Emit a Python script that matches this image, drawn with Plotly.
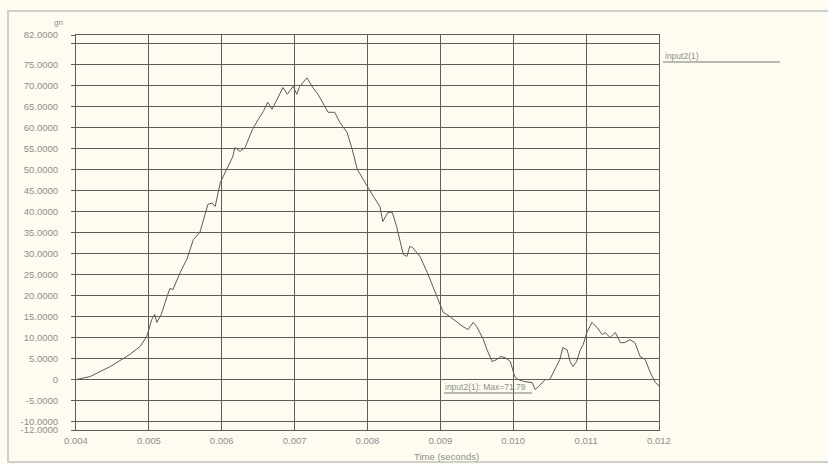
import plotly.graph_objects as go

time_s = [0.00400, 0.00419, 0.00447, 0.00474, 0.00488, 0.00497, 0.00504, 0.00508, 0.00511, 0.00517,
          0.00525, 0.00529, 0.00533, 0.00543, 0.00552, 0.00561, 0.00570, 0.00581, 0.00587, 0.00591,
          0.00598, 0.00602, 0.00609, 0.00615, 0.00618, 0.00625, 0.00632, 0.00642, 0.00650, 0.00657,
          0.00663, 0.00669, 0.00676, 0.00684, 0.00690, 0.00694, 0.00698, 0.00703, 0.00707, 0.00717,
          0.00725, 0.00732, 0.00742, 0.00746, 0.00755, 0.00762, 0.00772, 0.00779, 0.00786, 0.00794,
          0.00799, 0.00808, 0.00817, 0.00821, 0.00828, 0.00834, 0.00840, 0.00849, 0.00854, 0.00858,
          0.00862, 0.00872, 0.00882, 0.00890, 0.00899, 0.00904, 0.00913, 0.00923, 0.00931, 0.00938,
          0.00945, 0.00950, 0.00959, 0.00964, 0.00971, 0.00978, 0.00982, 0.00989, 0.00996, 0.01002,
          0.01007, 0.01016, 0.01026, 0.01030, 0.01037, 0.01044, 0.01050, 0.01057, 0.01064, 0.01068,
          0.01074, 0.01078, 0.01082, 0.01087, 0.01092, 0.01096, 0.01101, 0.01108, 0.01115, 0.01122,
          0.01126, 0.01133, 0.01140, 0.01147, 0.01153, 0.01160, 0.01167, 0.01174, 0.01181, 0.01188,
          0.01195, 0.01200]
accel_gn = [0.0, 0.7, 3.1, 6.0, 7.9, 10.2, 14.3, 15.5, 13.6, 15.5,
            19.8, 21.7, 21.4, 25.5, 28.6, 33.3, 35.0, 41.7, 42.0, 41.2,
            46.9, 48.3, 50.7, 53.0, 55.2, 54.3, 55.2, 59.5, 61.9, 63.8,
            66.0, 64.3, 66.7, 69.5, 67.9, 69.0, 69.8, 67.9, 69.8, 71.79,
            69.5, 67.9, 65.0, 63.6, 63.6, 61.2, 58.8, 54.8, 50.0, 47.6,
            46.4, 43.6, 41.2, 37.6, 39.8, 39.8, 36.4, 29.8, 29.3, 31.7,
            31.4, 29.3, 25.5, 22.1, 18.3, 16.0, 15.0, 13.6, 12.6, 11.9,
            13.6, 12.6, 9.5, 7.1, 4.3, 4.8, 5.5, 5.2, 4.3, 0.7,
            0.0, -0.5, -0.7, -2.4, -1.2, 0.0, 0.0, 2.4, 4.8, 7.6,
            7.1, 4.3, 3.1, 4.3, 7.1, 8.3, 11.2, 13.6, 12.4, 10.7,
            11.2, 10.0, 11.2, 8.8, 8.8, 9.5, 8.8, 5.5, 4.8, 1.7,
            -0.7, -1.5]

y_tick_vals = [-12, -10, -5, 0, 5, 10, 15, 20, 25, 30, 35, 40, 45, 50, 55, 60, 65, 70, 75, 80, 82]
y_tick_text = ["-12.0000", "-10.0000", "-5.0000", "0", "5.0000", "10.0000", "15.0000", "20.0000",
               "25.0000", "30.0000", "35.0000", "40.0000", "45.0000", "50.0000", "55.0000",
               "60.0000", "65.0000", "70.0000", "75.0000", "", "82.0000"]
x_tick_vals = [0.004, 0.005, 0.006, 0.007, 0.008, 0.009, 0.010, 0.011, 0.012]
x_tick_text = ["0.004", "0.005", "0.006", "0.007", "0.008", "0.009", "0.010", "0.011", "0.012"]

series_name = "input2(1)"
max_label = "input2(1): Max=71.79"

W, H = 828, 464
L, R, T, B = 76, 169, 35, 34
pw, ph = W - L - R, H - T - B

def px(x):
    return (x - L) / pw

def py(y):
    return (H - B - y) / ph

bg = "#fefcf0"
grid = "#5e5e5e"
txt = "#8e8e8e"

fig = go.Figure()
fig.add_trace(go.Scatter(x=time_s, y=accel_gn, mode="lines",
                         line=dict(color="#5a5a5a", width=1), name=series_name,
                         showlegend=False))

fig.update_layout(
    width=W, height=H,
    margin=dict(l=L, r=R, t=T, b=B),
    paper_bgcolor=bg, plot_bgcolor=bg,
    font=dict(family="Liberation Sans, Arial", size=9, color=txt),
    xaxis=dict(range=[0.004, 0.012], tickvals=x_tick_vals, ticktext=x_tick_text,
               showgrid=True, gridcolor=grid, gridwidth=1, zeroline=False,
               showline=True, linecolor=grid, linewidth=1, mirror=True,
               ticks="", ticklabelstandoff=2, tickfont=dict(size=9.5, color=txt), automargin=False),
    yaxis=dict(range=[-12, 82], tickvals=y_tick_vals, ticktext=y_tick_text,
               showgrid=True, gridcolor=grid, gridwidth=1, zeroline=False,
               showline=True, linecolor=grid, linewidth=1, mirror=True,
               ticks="outside", ticklen=4, tickcolor=grid, ticklabelstandoff=11,
               tickfont=dict(size=9.5, color=txt), automargin=False),
    shapes=[
        dict(type="rect", xref="paper", yref="paper", x0=px(8), x1=px(834), y0=py(462), y1=py(11),
             line=dict(color="#cfcfcf", width=2), layer="below"),
        dict(type="line", xref="paper", yref="paper", x0=px(663), x1=px(780), y0=py(62), y1=py(62),
             line=dict(color="#777777", width=1)),
        dict(type="line", xref="paper", yref="paper", x0=px(444), x1=px(532), y0=py(393), y1=py(393),
             line=dict(color="#777777", width=1)),
    ],
    annotations=[
        dict(text="gn", xref="paper", yref="paper", x=px(52), y=py(22), yanchor="middle",
             showarrow=False, font=dict(size=8, color=txt)),
        dict(text="Time (seconds)", xref="paper", yref="paper", x=px(446), y=py(457), yanchor="middle",
             showarrow=False, font=dict(size=9.5, color=txt)),
        dict(text=series_name, xref="paper", yref="paper", x=px(663), y=py(56), xanchor="left",
             yanchor="middle", showarrow=False, font=dict(size=8.5, color=txt)),
        dict(text=max_label, xref="paper", yref="paper", x=px(443), y=py(387), xanchor="left",
             yanchor="middle", showarrow=False, font=dict(size=8.5, color=txt)),
    ],
)

fig.write_html("out.html", config={"displayModeBar": False},
               post_script="document.body.style.margin='0';document.body.style.overflow='hidden';")
